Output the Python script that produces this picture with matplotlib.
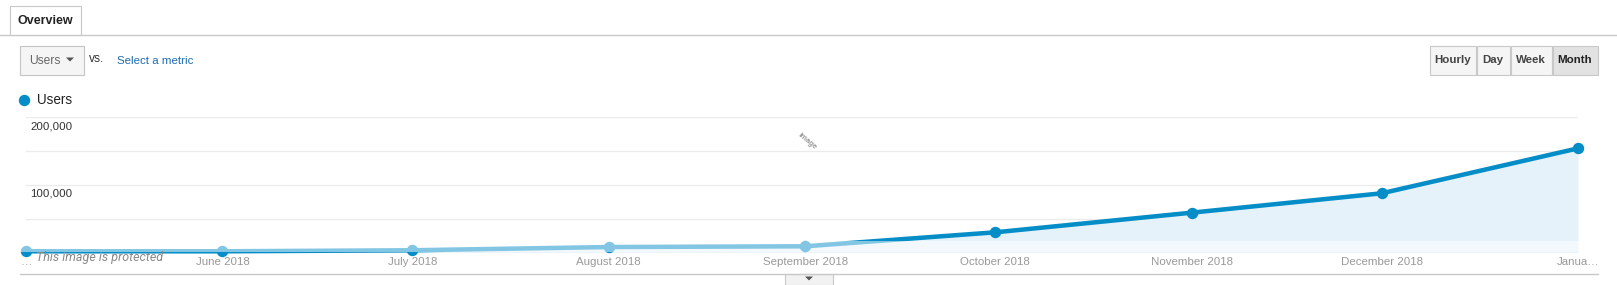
#!/usr/bin/env python3

import matplotlib
matplotlib.use('Agg')
import matplotlib.pyplot as plt
import matplotlib.dates as mdates
from matplotlib.patches import Rectangle, Polygon
from datetime import date

W, H = 1617, 285

# data (monthly users)
months = [date(2018, 5, 1), date(2018, 6, 1), date(2018, 7, 1), date(2018, 8, 1),
          date(2018, 9, 1), date(2018, 10, 1), date(2018, 11, 1), date(2018, 12, 1),
          date(2019, 1, 1)]
users = [1500, 1500, 3000, 7800, 8900, 29600, 58700, 87400, 154000]
tick_labels = ['…', 'June 2018', 'July 2018', 'August 2018', 'September 2018',
               'October 2018', 'November 2018', 'December 2018', 'Janua…']
grid_values = [0, 50000, 100000, 150000, 200000]
labelled_values = [100000, 200000]
buttons = ['Hourly', 'Day', 'Week', 'Month']

BLUE = '#058dc7'
FILL = '#e6f2f9'
FONT = 'Liberation Sans'


def fx(px):
    return px / W


def fy(py):
    # pixel from top -> figure fraction
    return 1 - py / H


def pt(px):
    return px * 72 / 100


fig = plt.figure(figsize=(W / 100, H / 100), dpi=100)
fig.patch.set_facecolor('white')


def rect(x0, y0, x1, y1, **kw):
    r = Rectangle((fx(x0), fy(y1)), fx(x1 - x0), fy(y0) - fy(y1),
                  transform=fig.transFigure, **kw)
    fig.add_artist(r)
    return r


def hline(x0, x1, y, color, lw=1.0):
    fig.add_artist(plt.Line2D([fx(x0), fx(x1)], [fy(y), fy(y)],
                              transform=fig.transFigure, color=color, lw=lw))


def triangle(cx, cy, w, h, color='#555555'):
    fig.add_artist(Polygon([(fx(cx - w / 2), fy(cy - h / 2)), (fx(cx + w / 2), fy(cy - h / 2)),
                            (fx(cx), fy(cy + h / 2))],
                           closed=True, transform=fig.transFigure, color=color, lw=0))


# header: Overview tab
hline(0, W, 34.5, '#c8c8c8')
rect(9.5, 6, 80.5, 35, facecolor='white', edgecolor='#c8c8c8', lw=0.8)
rect(10.5, 33, 79.5, 36, facecolor='white', edgecolor='none')
fig.text(fx(45), fy(21), 'Overview', fontsize=pt(12.5), fontweight='bold',
         family=FONT, color='#222222', ha='center', va='center')

# Users dropdown + vs.
rect(19.5, 45.5, 84, 75, facecolor='#f5f5f5', edgecolor='#c4c4c4', lw=0.8)
fig.text(fx(29), fy(60.5), 'Users', fontsize=pt(12), family=FONT,
         color='#666666', va='center')
triangle(70, 59.5, 8, 4)
fig.text(fx(89), fy(59), 'vs.', fontsize=pt(12), family=FONT,
         color='#333333', va='center')
fig.text(fx(117), fy(60.5), 'Select a metric', fontsize=pt(11.5), family=FONT,
         color='#1e6bb0', va='center')

# granularity buttons
btn_edges = [1429, 1476, 1510, 1552, 1598]
for i, name in enumerate(buttons):
    active = name == 'Month'
    rect(btn_edges[i] + 0.5, 45.5, btn_edges[i + 1] - 0.5, 75,
         facecolor='#e2e2e2' if active else '#f5f5f5', edgecolor='#c8c8c8', lw=0.8)
    fig.text(fx((btn_edges[i] + btn_edges[i + 1]) / 2), fy(60), name,
             fontsize=pt(11.5), fontweight='bold', family=FONT,
             color='#222222' if active else '#444444', ha='center', va='center')

# legend
fig.add_artist(plt.Line2D([fx(24)], [fy(100)], transform=fig.transFigure,
                          marker='o', markersize=pt(10), color=BLUE, lw=0))
fig.text(fx(37), fy(100.5), 'Users', fontsize=pt(13.5), family=FONT,
         color='#222222', va='center')

# chart
ax = fig.add_axes([fx(26), fy(252.3), fx(1578 - 26), fy(117.3) - fy(252.3)])
ax.set_xlim(months[0], months[-1])
ax.set_ylim(0, 200000)
for s in ax.spines.values():
    s.set_visible(False)
ax.set_yticks([])
ax.set_xticks([])

for v in grid_values[1:]:
    ax.axhline(v, color='#ebebeb', lw=0.9, zorder=0)
ax.axhline(0, color='#999999', lw=1.2, zorder=1)
for v in labelled_values:
    ax.text(0.003, v - 13000, f'{v:,}', transform=ax.get_yaxis_transform(),
            fontsize=pt(11.5), family=FONT, color='#333333', va='center', ha='left')

ax.fill_between(months, users, 0, color=FILL, zorder=2, lw=0)
ax.plot(months, users, color=BLUE, lw=pt(4.5), zorder=3, solid_capstyle='round',
        solid_joinstyle='round', marker='o', markersize=pt(10), clip_on=False)

for d, lab in zip(months, tick_labels):
    ax.text(mdates.date2num(d), -0.075, lab, transform=ax.get_xaxis_transform(),
            fontsize=pt(11.5), family=FONT, color='#999999', ha='center', va='center')

# faint protection overlay band + watermark
rect(20, 241, 1580, 252, facecolor='white', edgecolor='none', alpha=0.5, zorder=10)
fig.text(fx(36), fy(257), 'This image is protected', fontsize=pt(12.5),
         family='Roboto', style='italic', color='#888888', va='center', zorder=11)
fig.text(fx(807), fy(141), 'image', fontsize=5.5, family=FONT, color='#999999',
         rotation=-40, ha='center', va='center', fontweight='bold')

# bottom rule and scroll tab
hline(20, 1598, 273.5, '#c8c8c8')
rect(784.5, 273.5, 833, 285, facecolor='#f2f2f2', edgecolor='#c8c8c8', lw=0.8)
triangle(809, 278.5, 8, 4)

fig.savefig('out.png', dpi=100, facecolor='white')
